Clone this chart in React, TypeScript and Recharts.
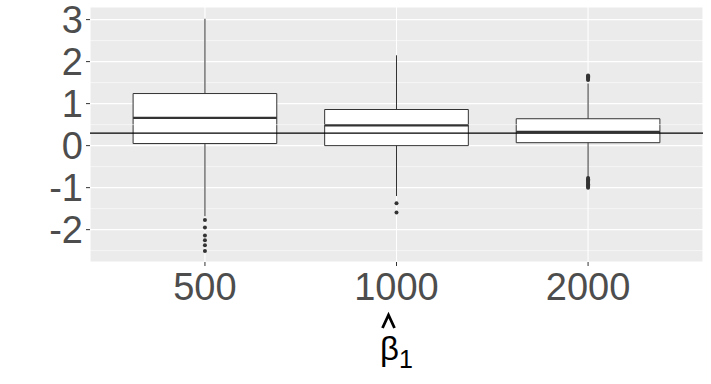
import React from "react";
import {
  ScatterChart,
  Scatter,
  XAxis,
  YAxis,
  CartesianGrid,
  ReferenceArea,
  ReferenceLine,
} from "recharts";

const categories = ["500", "1000", "2000"];
const positions = [1, 2, 3];
const q1 = [0.05, 0.0, 0.07];
const medians = [0.66, 0.48, 0.33];
const q3 = [1.24, 0.86, 0.64];
const whiskerLow = [-1.68, -1.2, -0.75];
const whiskerHigh = [3.02, 2.15, 1.48];
const outliers500 = [-1.77, -1.95, -2.14, -2.25, -2.37, -2.51];
const outliers1000 = [-1.37, -1.59];
const outliers2000 = [1.56, 1.59, 1.62, 1.65, 1.67, -0.77, -0.8, -0.83, -0.86, -0.89, -0.92, -0.95, -0.98, -1.0];
const trueValue = 0.3;
const yTicks = [-2, -1, 0, 1, 2, 3];
const yMinor = [-2.5, -1.5, -0.5, 0.5, 1.5, 2.5];

const outlierSets = [outliers500, outliers1000, outliers2000];
const outlierData = outlierSets.flatMap((arr, i) => arr.map((y) => ({ x: positions[i], y })));

const FONT = "'Liberation Sans', Arial, sans-serif";
const BOX_HALF = 0.375;

const Dot = (props: any) => <circle cx={props.cx} cy={props.cy} r={2} fill="#333333" />;

const BetaLabel = (props: any) => {
  const vb = props.viewBox || {};
  const cx = vb.x + vb.width / 2;
  const y0 = vb.y;
  const hx = cx - 8;
  return (
    <g>
      <path
        d={`M ${hx - 6} ${y0 + 66} L ${hx} ${y0 + 53} L ${hx + 6} ${y0 + 66}`}
        fill="none"
        stroke="#000"
        strokeWidth={2.8}
      />
      <text x={cx} y={y0 + 98} textAnchor="middle" fontFamily={FONT} fill="#000">
        <tspan fontSize={33}>β</tspan>
        <tspan fontSize={25} dy={8}>1</tspan>
      </text>
    </g>
  );
};

export default function App() {
  return (
    <div style={{ position: "absolute", left: 0, top: 0 }}>
      <ScatterChart width={711} height={384} margin={{ top: 7, right: 8, bottom: 0, left: 0 }}>
        <CartesianGrid fill="#EBEBEB" stroke="#FFFFFF" strokeWidth={1.1} />
        {yMinor.map((v) => (
          <ReferenceLine key={"m" + v} y={v} stroke="#FFFFFF" strokeWidth={0.55} />
        ))}
        <XAxis
          type="number"
          dataKey="x"
          domain={[0.4, 3.6]}
          ticks={positions}
          interval={0}
          tickFormatter={(v: number) => categories[positions.indexOf(v)]}
          axisLine={false}
          tickSize={4}
          tickMargin={7}
          tickLine={{ stroke: "#333333" }}
          tick={{ fill: "#4D4D4D", fontSize: 38, fontFamily: FONT }}
          height={122}
          allowDataOverflow
          label={{ content: BetaLabel }}
        />
        <YAxis
          type="number"
          dataKey="y"
          domain={[-2.77, 3.3]}
          ticks={yTicks}
          interval={0}
          axisLine={false}
          tickSize={4}
          tickMargin={3}
          tickLine={{ stroke: "#333333" }}
          tick={{ fill: "#4D4D4D", fontSize: 38, fontFamily: FONT }}
          width={90}
          allowDataOverflow
        />
        {positions.map((p, i) => (
          <ReferenceLine
            key={"wh" + i}
            segment={[{ x: p, y: q3[i] }, { x: p, y: whiskerHigh[i] }]}
            stroke="#333333"
            strokeWidth={1}
          />
        ))}
        {positions.map((p, i) => (
          <ReferenceLine
            key={"wl" + i}
            segment={[{ x: p, y: whiskerLow[i] }, { x: p, y: q1[i] }]}
            stroke="#333333"
            strokeWidth={1}
          />
        ))}
        {positions.map((p, i) => (
          <ReferenceArea
            key={"b" + i}
            x1={p - BOX_HALF}
            x2={p + BOX_HALF}
            y1={q1[i]}
            y2={q3[i]}
            fill="#FFFFFF"
            fillOpacity={1}
            stroke="#333333"
            strokeWidth={1}
          />
        ))}
        {positions.map((p, i) => (
          <ReferenceLine
            key={"md" + i}
            segment={[{ x: p - BOX_HALF, y: medians[i] }, { x: p + BOX_HALF, y: medians[i] }]}
            stroke="#333333"
            strokeWidth={2.2}
          />
        ))}
        <ReferenceLine y={trueValue} stroke="#000000" strokeWidth={1.3} strokeOpacity={1} />
        <Scatter data={outlierData} shape={Dot} isAnimationActive={false} />
      </ScatterChart>
    </div>
  );
}
